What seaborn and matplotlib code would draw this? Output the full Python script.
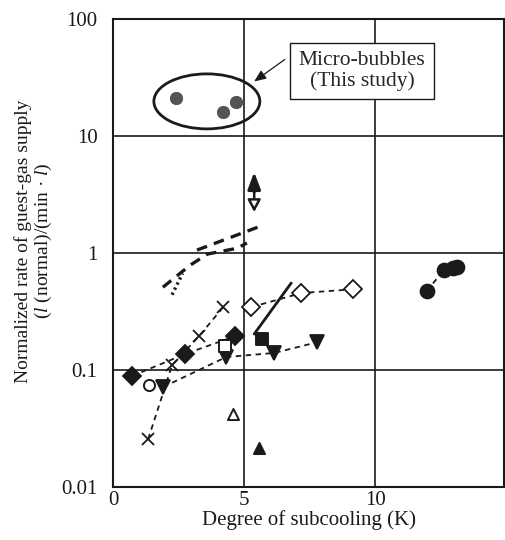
import numpy as np
import pandas as pd
import matplotlib
matplotlib.use('Agg')
import matplotlib.pyplot as plt
import seaborn as sns
from matplotlib.patches import Ellipse
from matplotlib.ticker import NullLocator

# data (x: subcooling K, y: normalized supply rate)
bubble_x = [2.4, 4.2, 4.7]
bubble_y = [21.0, 16.0, 19.5]

dash_a_x = [3.2, 5.75]
dash_a_y = [1.06, 1.74]
dash_b_x = [1.9, 2.95, 3.6, 4.75, 5.1]
dash_b_y = [0.51, 0.79, 0.98, 1.10, 1.22]
dot_c_x = [2.25, 2.65]
dot_c_y = [0.44, 0.67]

arrow_x = 5.38
arrow_y = [2.24, 4.92]

fdiam_x = [0.73, 2.75, 4.66]
fdiam_y = [0.089, 0.137, 0.195]
cross_x = [1.34, 2.25, 3.28, 4.2]
cross_y = [0.0257, 0.110, 0.195, 0.345]
vtri_x = [1.91, 4.31, 6.15, 7.79]
vtri_y = [0.0716, 0.129, 0.14, 0.173]
odiam_x = [5.27, 7.18, 9.16]
odiam_y = [0.345, 0.455, 0.49]
solid_x = [5.38, 6.79]
solid_y = [0.203, 0.554]
fcirc_x = [11.95, 12.6, 12.95, 13.1]
fcirc_y = [0.473, 0.71, 0.75, 0.76]

ocirc_x, ocirc_y = [1.37], [0.0745]
osq_x, osq_y = [4.27], [0.16]
fsq_x, fsq_y = [5.69], [0.184]
otri_x, otri_y = [4.58], [0.042]
ftri_x, ftri_y = [5.57], [0.0216]

y_ticks = [0.01, 0.1, 1, 10, 100]
y_labels = ['0.01', '0.1', '1', '10', '100']
x_ticks = [0, 5, 10]

sns.set_theme(style='white')
plt.rcParams['font.family'] = ['Liberation Serif', 'DejaVu Serif']
plt.rcParams['mathtext.fontset'] = 'custom'
plt.rcParams['mathtext.rm'] = 'Liberation Serif'
plt.rcParams['mathtext.it'] = 'Liberation Serif:italic'

fig = plt.figure(figsize=(5.05, 5.4), dpi=100)
ax = fig.add_axes([0.2238, 0.0981, 0.7743, 0.8667])

dashed = (0, (3, 2.5))
line_kw = dict(color='k', lw=1.3, linestyle=dashed, markeredgecolor='k',
               markeredgewidth=1.3, errorbar=None, legend=False, ax=ax)

sns.lineplot(x=fdiam_x, y=fdiam_y, marker='D', markersize=9.5, markerfacecolor='k', **line_kw)
sns.lineplot(x=cross_x, y=cross_y, marker='x', markersize=9, **line_kw)
sns.lineplot(x=vtri_x, y=vtri_y, marker='v', markersize=10, markerfacecolor='k', **line_kw)
sns.lineplot(x=odiam_x, y=odiam_y, marker='D', markersize=9.5, markerfacecolor='white', **line_kw)
sns.lineplot(x=fcirc_x, y=fcirc_y, marker='o', markersize=10, markerfacecolor='k', **line_kw)
sns.lineplot(x=solid_x, y=solid_y, color='k', lw=2, errorbar=None, ax=ax)

sns.lineplot(x=dash_a_x, y=dash_a_y, color='k', lw=2.4, linestyle=(0, (3.2, 2.2)), errorbar=None, ax=ax)
sns.lineplot(x=dash_b_x, y=dash_b_y, color='k', lw=2.4, linestyle=(0, (3.2, 2.2)), errorbar=None, ax=ax)
sns.lineplot(x=dot_c_x, y=dot_c_y, color='k', lw=2.4, linestyle=(0, (0.7, 1.0)), errorbar=None, ax=ax)

pt_kw = dict(edgecolor='k', linewidth=1.4, ax=ax, zorder=5)
sns.scatterplot(x=ocirc_x, y=ocirc_y, marker='o', s=64, facecolor='white', **pt_kw)
sns.scatterplot(x=osq_x, y=osq_y, marker='s', s=64, facecolor='white', **pt_kw)
sns.scatterplot(x=fsq_x, y=fsq_y, marker='s', s=64, facecolor='k', **pt_kw)
sns.scatterplot(x=otri_x, y=otri_y, marker='^', s=64, facecolor='white', **pt_kw)
sns.scatterplot(x=ftri_x, y=ftri_y, marker='^', s=64, facecolor='k', **pt_kw)
sns.scatterplot(x=bubble_x, y=bubble_y, marker='o', s=80, color='#555555', edgecolor='#444444',
                linewidth=0.5, ax=ax, zorder=5)

# double arrow: filled head up, open head down
mid = np.sqrt(arrow_y[0] * arrow_y[1])
ax.annotate('', xy=(arrow_x, arrow_y[1]), xytext=(arrow_x, mid),
            arrowprops=dict(arrowstyle='-|>,head_length=0.85,head_width=0.32', color='k', lw=2.2,
                            mutation_scale=12, shrinkA=0, shrinkB=0))
ax.annotate('', xy=(arrow_x, arrow_y[0]), xytext=(arrow_x, mid),
            arrowprops=dict(arrowstyle='-|>,head_length=0.6,head_width=0.32', fc='white', ec='k', lw=1.8,
                            mutation_scale=12, shrinkA=0, shrinkB=0))

ax.add_patch(Ellipse((0.240, 0.824), 0.271, 0.1175, transform=ax.transAxes,
                     fill=False, ec='k', lw=2))
ax.text(0.637, 0.889, 'Micro-bubbles\n(This study)', transform=ax.transAxes,
        ha='center', va='center', fontsize=15.5, linespacing=1.05,
        bbox=dict(boxstyle='square,pad=0.4', fc='white', ec='k', lw=1))
ax.annotate('', xy=(0.355, 0.863), xytext=(0.445, 0.917), xycoords='axes fraction',
            arrowprops=dict(arrowstyle='-|>,head_length=0.6,head_width=0.25', color='k', lw=0.9))

ax.set_yscale('log')
ax.set_ylim(0.01, 100)
ax.set_xlim(0, 14.9)
ax.set_yticks(y_ticks)
ax.set_yticklabels(y_labels)
ax.set_xticks(x_ticks)
ax.yaxis.set_minor_locator(NullLocator())
ax.tick_params(axis='y', length=0, pad=11, labelsize=15, colors='k')
ax.tick_params(axis='x', length=0, pad=3, labelsize=15, colors='k')
ax.grid(True, which='major', color='k', lw=1.2)
for sp in ax.spines.values():
    sp.set_color('k')
    sp.set_linewidth(1.5)

ax.set_xlabel('Degree of subcooling (K)', fontsize=15, color='k', labelpad=0)
ax.set_ylabel('Normalized rate of guest-gas supply\n($l$ (normal)/(min · $l$)',
              fontsize=14, color='k', linespacing=1.05)
ax.yaxis.set_label_coords(-0.151, 0.526)

fig.savefig('out.png', dpi=100)
